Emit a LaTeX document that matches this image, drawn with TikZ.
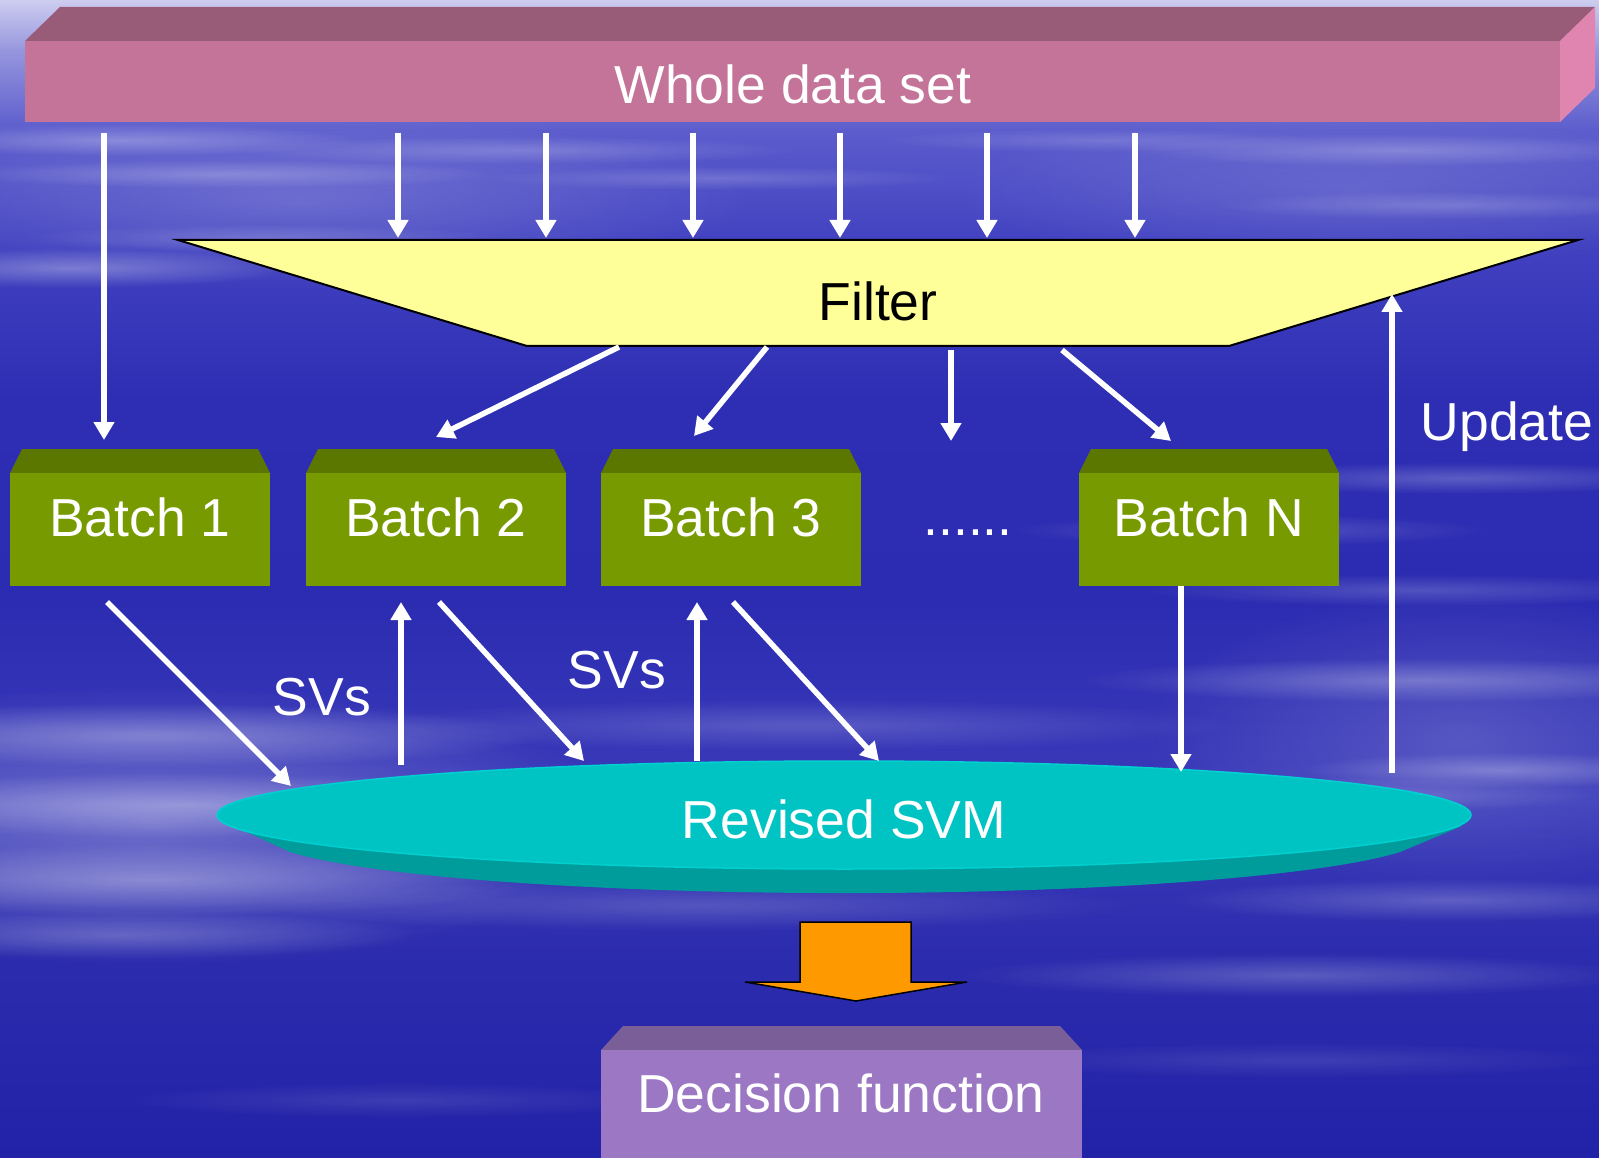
\documentclass[tikz,border=0pt]{standalone}
\usepackage{fontspec}
\setmainfont{Liberation Sans}
\usetikzlibrary{arrows.meta,fadings}

\definecolor{bg0}{RGB}{205,205,240}
\definecolor{bg1}{RGB}{150,150,222}
\definecolor{bg2}{RGB}{92,92,205}
\definecolor{bg3}{RGB}{64,64,192}
\definecolor{bg4}{RGB}{46,46,180}
\definecolor{bg5}{RGB}{44,44,178}
\definecolor{bg6}{RGB}{58,58,186}
\definecolor{bg7}{RGB}{44,44,174}
\definecolor{bg8}{RGB}{34,34,168}
\definecolor{barfront}{RGB}{196,116,153}
\definecolor{bartop}{RGB}{152,91,120}
\definecolor{barside}{RGB}{224,133,176}
\definecolor{filterc}{RGB}{255,255,153}
\definecolor{batchfront}{RGB}{119,154,0}
\definecolor{batchtop}{RGB}{91,119,0}
\definecolor{svmc}{RGB}{0,196,196}
\definecolor{svmedge}{RGB}{0,208,208}
\definecolor{svmdark}{RGB}{0,156,156}
\definecolor{orangec}{RGB}{255,153,0}
\definecolor{decfront}{RGB}{156,119,196}
\definecolor{dectop}{RGB}{122,94,152}

\tikzfading[name=fuzzy, inner color=transparent!10, outer color=transparent!100]

\tikzset{
  lbl/.style={text=white, font=\fontsize{53.5}{62}\selectfont, inner sep=0pt},
  warr/.style={draw=white, line width=5.5pt, -{Triangle[width=20pt,length=18pt]}},
  streak/.style={fill=white, fill opacity=#1, path fading=fuzzy},
  streak/.default=0.3
}

\newcommand\batchbox[3]{%
  \fill[batchtop] (#2,473) -- ({#2+12},449) -- ({#2+248},449) -- ({#2+260},473) -- cycle;
  \fill[batchfront] (#2,473) rectangle ({#2+260},586);
  \node[lbl, anchor=base] (#1) at ({#2+130},536) {#3};
}

\begin{document}
\begin{tikzpicture}[x=1pt,y=-1pt]
\useasboundingbox (0,0) rectangle (1599,1158);
\clip (0,0) rectangle (1599,1158);

% ---------- background ----------
\shade[top color=bg0, bottom color=bg1] (0,0) rectangle (1599,51);
\shade[top color=bg1, bottom color=bg2] (0,50) rectangle (1599,131);
\shade[top color=bg2, bottom color=bg3] (0,130) rectangle (1599,251);
\shade[top color=bg3, bottom color=bg4] (0,250) rectangle (1599,401);
\shade[top color=bg4, bottom color=bg5] (0,400) rectangle (1599,601);
\shade[top color=bg5, bottom color=bg6] (0,600) rectangle (1599,801);
\shade[top color=bg6, bottom color=bg7] (0,800) rectangle (1599,951);
\shade[top color=bg7, bottom color=bg8] (0,950) rectangle (1599,1158);

% broad light areas
\fill[streak=0.3] (150,825) ellipse [x radius=480, y radius=140];
\fill[streak=0.18] (1460,740) ellipse [x radius=320, y radius=150];
\fill[streak=0.2] (300,200) ellipse [x radius=450, y radius=90];
\fill[streak=0.15] (1350,190) ellipse [x radius=400, y radius=80];

% cloud streaks
\fill[streak=0.3] (120,140) ellipse [x radius=240, y radius=16];
\fill[streak=0.25] (220,174) ellipse [x radius=280, y radius=14];
\fill[streak=0.35] (70,268) ellipse [x radius=220, y radius=20];
\fill[streak=0.2] (260,238) ellipse [x radius=240, y radius=14];
\fill[streak=0.22] (520,150) ellipse [x radius=280, y radius=14];
\fill[streak=0.2] (720,178) ellipse [x radius=240, y radius=12];
\fill[streak=0.25] (1400,150) ellipse [x radius=280, y radius=16];
\fill[streak=0.2] (1450,205) ellipse [x radius=240, y radius=14];
\fill[streak=0.18] (1100,140) ellipse [x radius=220, y radius=12];
\fill[streak=0.35] (150,735) ellipse [x radius=400, y radius=32];
\fill[streak=0.35] (180,805) ellipse [x radius=440, y radius=32];
\fill[streak=0.35] (150,880) ellipse [x radius=400, y radius=36];
\fill[streak=0.25] (120,935) ellipse [x radius=300, y radius=24];
\fill[streak=0.2] (800,725) ellipse [x radius=440, y radius=26];
\fill[streak=0.2] (700,905) ellipse [x radius=440, y radius=26];
\fill[streak=0.25] (1460,478) ellipse [x radius=240, y radius=16];
\fill[streak=0.2] (1250,530) ellipse [x radius=240, y radius=16];
\fill[streak=0.2] (1420,590) ellipse [x radius=280, y radius=16];
\fill[streak=0.3] (1420,680) ellipse [x radius=340, y radius=22];
\fill[streak=0.3] (1500,770) ellipse [x radius=200, y radius=18];
\fill[streak=0.25] (1320,795) ellipse [x radius=280, y radius=18];
\fill[streak=0.25] (1450,900) ellipse [x radius=280, y radius=22];
\fill[streak=0.25] (1300,975) ellipse [x radius=340, y radius=22];
\fill[streak=0.12] (400,1100) ellipse [x radius=280, y radius=18];
\fill[streak=0.12] (1300,1060) ellipse [x radius=320, y radius=18];

% ---------- top bar ----------
\fill[bartop] (25,41) -- (60,7) -- (1595,7) -- (1560,41) -- cycle;
\fill[barside] (1560,41) -- (1595,7) -- (1595,88) -- (1560,122) -- cycle;
\fill[barfront] (25,41) rectangle (1560,122);
\node[lbl, anchor=base] (whole) at (793,104) {Whole data set};

% ---------- filter ----------
\filldraw[fill=filterc, draw=black, line width=2pt, line join=miter]
  (178,240) -- (1578,240) -- (1229,346) -- (527,346) -- cycle;
\node[lbl, text=black, anchor=base] (filter) at (878,321) {Filter};

% ---------- batches ----------
\batchbox{b1}{10}{Batch 1}
\batchbox{b2}{306}{Batch 2}
\batchbox{b3}{601}{Batch 3}
\batchbox{bN}{1079}{Batch N}
\node[lbl, anchor=base] (dots) at (968,535) {......};

% ---------- revised SVM ----------
\fill[svmdark] (225,822) -- (290,852)
  arc[start angle=161.6, end angle=18.4, x radius=585, y radius=60]
  -- (1462,826) -- cycle;
\filldraw[fill=svmc, draw=svmedge, line width=1.5pt] (844,815) ellipse [x radius=627, y radius=54];
\node[lbl, anchor=base] (svm) at (844,838) {Revised SVM};

% ---------- orange arrow ----------
\filldraw[fill=orangec, draw=black, line width=1.5pt, line join=miter]
  (800,922) -- (911,922) -- (911,982) -- (967,982) -- (856,1001) -- (745,982) -- (800,982) -- cycle;

% ---------- decision function ----------
\fill[dectop] (601,1050) -- (623,1026) -- (1060,1026) -- (1082,1050) -- cycle;
\fill[decfront] (601,1050) rectangle (1082,1170);
\node[lbl, anchor=base] (dec) at (841,1112) {Decision function};

% ---------- labels ----------
\node[lbl, anchor=base] (sv1) at (322,715) {SVs};
\node[lbl, anchor=base] (sv2) at (617,688) {SVs};
\node[lbl, anchor=base] (upd) at (1507,440) {Update};

% ---------- connector endpoints ----------
\coordinate (w0) at (104,133);  \coordinate (b1in) at (104,440);
\foreach \i/\x in {1/398,2/546,3/693,4/840,5/987,6/1135}{
  \coordinate (ws\i) at (\x,133);
  \coordinate (fi\i) at (\x,238);
}
\coordinate (fo2) at (619,347); \coordinate (b2in) at (436,437);
\coordinate (fo3) at (767,347); \coordinate (b3in) at (694,436);
\coordinate (fod) at (951,350); \coordinate (dotsin) at (951,441);
\coordinate (foN) at (1062,350); \coordinate (bNin) at (1171,441);
\coordinate (b1out) at (107,602); \coordinate (s1) at (291,786);
\coordinate (s2up) at (401,765); \coordinate (b2up) at (401,602);
\coordinate (b2out) at (439,602); \coordinate (s2) at (584,761);
\coordinate (s3up) at (697,761); \coordinate (b3up) at (697,602);
\coordinate (b3out) at (733,602); \coordinate (s3) at (879,761);
\coordinate (bNout) at (1181,586); \coordinate (sN) at (1181,772);
\coordinate (supd) at (1392,773); \coordinate (fupd) at (1392,294);

% ---------- connectors ----------
\draw[warr] (w0) -- (b1in);
\foreach \i in {1,...,6}{ \draw[warr] (ws\i) -- (fi\i); }
\draw[warr] (fo2) -- (b2in);
\draw[warr] (fo3) -- (b3in);
\draw[warr] (fod) -- (dotsin);
\draw[warr] (foN) -- (bNin);
\draw[warr] (b1out) -- (s1);
\draw[warr] (s2up) -- (b2up);
\draw[warr] (b2out) -- (s2);
\draw[warr] (s3up) -- (b3up);
\draw[warr] (b3out) -- (s3);
\draw[warr] (bNout) -- (sN);
\draw[warr] (supd) -- (fupd);
\end{tikzpicture}
\end{document}
